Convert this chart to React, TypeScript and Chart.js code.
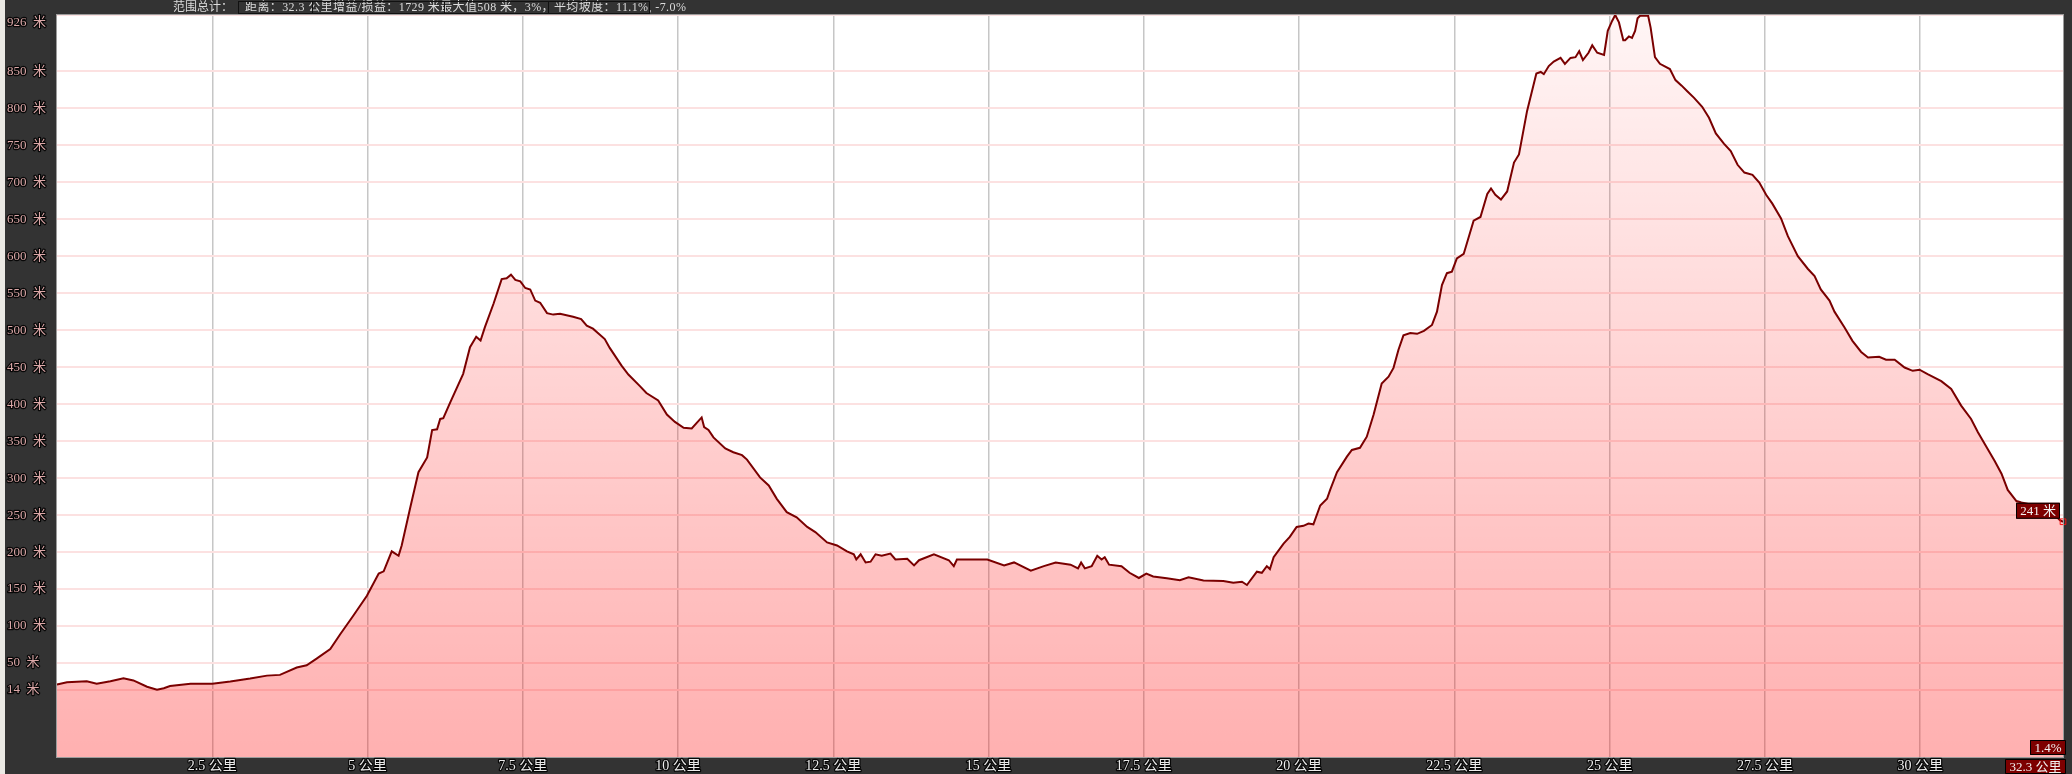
import React, { useEffect, useRef } from 'react';
import { Chart, registerables } from 'chart.js';

Chart.register(...registerables);

// ---- data (distance in km, elevation in m) ----
const distanceKm = [
  0.0, 0.16, 0.48, 0.64, 0.86, 1.07, 1.23, 1.45, 1.61, 1.72, 1.82, 2.15, 2.5, 2.79, 3.11, 3.38, 3.59, 3.86, 4.02, 4.18,
  4.4, 4.56, 4.77, 4.99, 5.18, 5.26, 5.39, 5.5, 5.55, 5.69, 5.82, 5.96, 6.04, 6.12, 6.17, 6.22, 6.33, 6.54, 6.65, 6.75,
  6.82, 6.89, 7.03, 7.16, 7.24, 7.31, 7.38, 7.46, 7.54, 7.62, 7.7, 7.78, 7.89, 7.99, 8.1, 8.31, 8.44, 8.53, 8.63, 8.82,
  8.9, 9.09, 9.2, 9.39, 9.49, 9.68, 9.82, 9.95, 10.09, 10.22, 10.38, 10.42, 10.49, 10.57, 10.76, 10.89, 11.03, 11.11, 11.32, 11.46,
  11.59, 11.75, 11.91, 12.08, 12.21, 12.4, 12.56, 12.72, 12.83, 12.87, 12.94, 13.02, 13.1, 13.18, 13.28, 13.42, 13.5, 13.69, 13.8, 13.88,
  14.12, 14.36, 14.44, 14.49, 14.98, 15.25, 15.41, 15.68, 15.89, 16.08, 16.32, 16.44, 16.49, 16.55, 16.66, 16.75, 16.82, 16.87, 16.94, 17.14,
  17.27, 17.42, 17.54, 17.65, 17.87, 18.08, 18.22, 18.46, 18.78, 18.94, 19.08, 19.16, 19.32, 19.4, 19.48, 19.53, 19.59, 19.75, 19.85, 19.96,
  20.07, 20.15, 20.23, 20.34, 20.45, 20.5, 20.61, 20.77, 20.85, 20.98, 21.09, 21.2, 21.33, 21.44, 21.52, 21.6, 21.68, 21.79, 21.9, 22.01,
  22.14, 22.22, 22.3, 22.38, 22.46, 22.54, 22.65, 22.81, 22.92, 23.03, 23.09, 23.16, 23.25, 23.35, 23.46, 23.54, 23.67, 23.82, 23.89, 23.94,
  24.02, 24.1, 24.21, 24.28, 24.37, 24.45, 24.51, 24.57, 24.66, 24.72, 24.8, 24.91, 24.97, 25.04, 25.09, 25.15, 25.22, 25.25, 25.31, 25.36,
  25.41, 25.45, 25.49, 25.62, 25.66, 25.73, 25.81, 25.97, 26.06, 26.16, 26.25, 26.36, 26.49, 26.6, 26.71, 26.84, 26.95, 27.06, 27.17, 27.3,
  27.41, 27.52, 27.62, 27.76, 27.87, 28.03, 28.19, 28.3, 28.4, 28.54, 28.62, 28.78, 28.91, 29.05, 29.16, 29.34, 29.45, 29.59, 29.75, 29.88,
  29.99, 30.12, 30.34, 30.5, 30.66, 30.82, 30.93, 31.04, 31.2, 31.31, 31.41, 31.55, 31.63, 31.9, 32.15, 32.25, 32.3,
];

const elevationM = [
  21, 24, 25.5, 22, 25.5, 29.5, 26.5, 18, 14, 16, 19, 22, 22, 25, 29, 33, 34, 44, 47, 56,
  69, 89, 114, 141, 171, 174, 201, 195, 209, 261, 308, 328, 365, 366, 380, 381, 402, 441, 477, 491,
  486, 504, 536, 569, 570, 575, 568, 566, 557, 555, 540, 537, 523, 521, 522, 518, 515, 506, 502, 488,
  476, 452, 440, 424, 415, 405, 386, 376, 368, 367, 382, 369, 365, 355, 340, 335, 331, 325, 301, 290,
  272, 254, 247, 234, 227, 213, 209, 201, 197, 190, 197, 186, 187, 197, 195, 198, 190, 191, 182, 189,
  197, 189, 181, 190, 190, 182, 186, 175, 181, 186, 183, 178, 186, 178, 181, 195, 190, 193, 183, 181,
  172, 165, 171, 167, 164.5, 162, 166, 161.5, 161, 158.5, 160, 155.5, 173.5, 172, 181, 177, 193, 211.5, 220.5, 234,
  235.5, 238.5, 237.5, 263, 272, 284, 308, 329, 338, 341, 356, 386, 428, 437, 449, 473.5, 493, 496, 495, 499,
  507, 525, 561, 577, 579, 597, 603, 648, 653, 684, 691.5, 683, 676.5, 687.5, 726.5, 737.5, 796, 847, 849, 846,
  857, 863, 868, 860, 868, 869, 877, 865, 875, 885, 875, 872, 904.5, 918, 926, 916, 892, 892, 897, 895,
  904.5, 921.5, 925, 925, 909, 869, 860, 853, 838, 830.5, 823, 814, 802, 787, 766, 752, 742, 723.5, 713, 710,
  699.5, 683, 671, 651, 627, 600, 583, 573, 555, 540, 525, 504, 485.5, 470.5, 463, 464, 460, 460, 449.5, 445,
  446.5, 440.5, 431, 420.5, 398, 380, 362, 346, 323, 306, 284, 269, 267, 262, 252, 243, 241,
];

const yTickValues = [14, 50, 100, 150, 200, 250, 300, 350, 400, 450, 500, 550, 600, 650, 700, 750, 800, 850, 926];
const xTickValues = [2.5, 5, 7.5, 10, 12.5, 15, 17.5, 20, 22.5, 25, 27.5, 30];
const yMin = -77;
const yMax = 926;
const totalDistanceKm = 32.3;
const endElevationM = 241;
const endGradeText = '1.4%';
const headerTitle = '范围总计：';
const headerText = '距离：32.3 公里增益/损益：1729 米最大值508 米，3%，平均坡度：11.1%, -7.0%';

const LABEL_FONT = "13px 'Liberation Serif', 'Noto Sans CJK SC', serif";
const XLABEL_FONT = "14px 'Liberation Serif', 'Noto Sans CJK SC', serif";
const HEADER_FONT = "'Liberation Serif', 'Noto Sans CJK SC', serif";

function outlinedText(ctx: CanvasRenderingContext2D, text: string, x: number, y: number, fill: string) {
  ctx.lineJoin = 'round';
  ctx.lineWidth = 2.5;
  ctx.strokeStyle = 'rgba(0,0,0,0.85)';
  ctx.strokeText(text, x, y);
  ctx.fillStyle = fill;
  ctx.fillText(text, x, y);
}

function boxedText(ctx: CanvasRenderingContext2D, text: string, right: number, top: number, height: number) {
  ctx.font = LABEL_FONT;
  const w = Math.ceil(ctx.measureText(text).width) + 8;
  const left = right - w;
  ctx.fillStyle = '#7d0000';
  ctx.fillRect(left, top, w, height);
  ctx.strokeStyle = '#000';
  ctx.lineWidth = 1;
  ctx.strokeRect(left + 0.5, top + 0.5, w - 1, height - 1);
  ctx.fillStyle = '#f2f2f2';
  ctx.textAlign = 'center';
  ctx.textBaseline = 'middle';
  ctx.fillText(text, left + w / 2, top + height / 2 + 1);
}

const profilePlugin = {
  id: 'profileDecor',
  beforeDraw(chart: any) {
    const { ctx, chartArea: a } = chart;
    ctx.save();
    ctx.fillStyle = '#ffffff';
    ctx.fillRect(a.left, a.top, a.right - a.left, a.bottom - a.top);
    ctx.restore();
  },
  afterDraw(chart: any) {
    const { ctx, chartArea: a } = chart;
    const xs = chart.scales.x;
    const ys = chart.scales.y;
    ctx.save();
    // plot border
    ctx.strokeStyle = '#9c9c9c';
    ctx.lineWidth = 1;
    ctx.strokeRect(a.left - 0.5, a.top - 0.5, a.right - a.left + 1, a.bottom - a.top + 1);

    // y labels
    ctx.font = LABEL_FONT;
    ctx.textAlign = 'left';
    ctx.textBaseline = 'middle';
    yTickValues.forEach((v) => {
      let y = ys.getPixelForValue(v);
      if (v === yMax) y += 8;
      outlinedText(ctx, `${v}  米`, 7, y, '#dca8a8');
    });

    // x labels
    ctx.font = XLABEL_FONT;
    ctx.textAlign = 'center';
    xTickValues.forEach((v) => {
      outlinedText(ctx, `${v} 公里`, xs.getPixelForValue(v), a.bottom + 9, '#ececec');
    });

    // end labels
    const lastX = xs.getPixelForValue(totalDistanceKm);
    const lastY = ys.getPixelForValue(endElevationM);
    boxedText(ctx, `${totalDistanceKm} 公里`, a.right + 3, a.bottom + 2, 15);
    boxedText(ctx, endGradeText, a.right + 3, a.bottom - 17, 15);
    boxedText(ctx, `${endElevationM} 米`, lastX - 3, lastY - 19, 16);
    ctx.restore();
  },
};

export default function App() {
  const canvasRef = useRef<HTMLCanvasElement | null>(null);

  useEffect(() => {
    const canvas = canvasRef.current;
    if (!canvas) return;
    const points = distanceKm.map((d, i) => ({ x: d, y: elevationM[i] }));
    const lastIndex = points.length - 1;
    const chart = new Chart(canvas, {
      type: 'line',
      data: {
        datasets: [
          {
            data: points,
            borderColor: '#7a0000',
            borderWidth: 2,
            tension: 0,
            fill: 'start',
            clip: 6,
            backgroundColor: (c: any) => {
              const a = c.chart.chartArea;
              if (!a) return 'rgba(255,0,0,0.2)';
              const g = c.chart.ctx.createLinearGradient(0, a.top, 0, a.bottom);
              g.addColorStop(0, 'rgba(255,0,0,0.04)');
              g.addColorStop(1, 'rgba(255,0,0,0.31)');
              return g;
            },
            pointRadius: (c: any) => (c.dataIndex === lastIndex ? 4 : 0),
            pointHoverRadius: 0,
            pointStyle: 'rect',
            pointBorderColor: '#ff1010',
            pointBackgroundColor: 'rgba(0,0,0,0)',
            pointBorderWidth: 1,
          } as any,
        ],
      },
      options: {
        responsive: false,
        animation: false,
        devicePixelRatio: 1,
        layout: { padding: { left: 57, top: 15, right: 9, bottom: 17 } },
        plugins: { legend: { display: false }, tooltip: { enabled: false } },
        events: [],
        scales: {
          x: {
            type: 'linear',
            min: 0,
            max: totalDistanceKm,
            afterBuildTicks: (s: any) => {
              s.ticks = xTickValues.map((v) => ({ value: v }));
            },
            afterFit: (s: any) => {
              s.height = 0;
            },
            ticks: { display: false },
            border: { display: false },
            grid: { color: '#c6c6c6', lineWidth: 1.5, drawTicks: false },
          },
          y: {
            type: 'linear',
            min: yMin,
            max: yMax,
            afterBuildTicks: (s: any) => {
              s.ticks = yTickValues.map((v) => ({ value: v }));
            },
            afterFit: (s: any) => {
              s.width = 0;
            },
            ticks: { display: false },
            border: { display: false },
            grid: { color: '#fce1e1', lineWidth: 2, drawTicks: false },
          },
        },
      },
      plugins: [profilePlugin],
    } as any);
    return () => chart.destroy();
  }, []);

  const cellEdges = [238, 312, 444, 548, 650];

  return (
    <div
      style={{
        position: 'absolute',
        left: 0,
        top: 0,
        width: 2072,
        height: 774,
        background: '#333333',
        overflow: 'hidden',
      }}
    >
      <div style={{ position: 'absolute', left: 0, top: 0, width: 5, height: 774, background: '#ebe9e4' }} />
      <canvas ref={canvasRef} width={2072} height={774} style={{ position: 'absolute', left: 0, top: 0 }} />
      <div
        style={{
          position: 'absolute',
          left: 173,
          top: 0,
          height: 15,
          lineHeight: '15px',
          fontSize: 12,
          fontFamily: HEADER_FONT,
          color: '#dcdcdc',
          whiteSpace: 'nowrap',
        }}
      >
        {headerTitle}
      </div>
      <div
        style={{
          position: 'absolute',
          left: 245,
          top: 0,
          height: 15,
          lineHeight: '15px',
          fontSize: 12,
          letterSpacing: '0.4px',
          fontFamily: HEADER_FONT,
          color: '#dcdcdc',
          whiteSpace: 'nowrap',
        }}
      >
        {headerText}
      </div>
      <div
        style={{
          position: 'absolute',
          left: cellEdges[0],
          top: 1,
          width: cellEdges[4] - cellEdges[0],
          height: 13,
          border: '1px solid #111',
          boxSizing: 'border-box',
        }}
      />
      {cellEdges.slice(1, 4).map((x) => (
        <div key={x} style={{ position: 'absolute', left: x, top: 1, width: 1, height: 13, background: '#111' }} />
      ))}
    </div>
  );
}
